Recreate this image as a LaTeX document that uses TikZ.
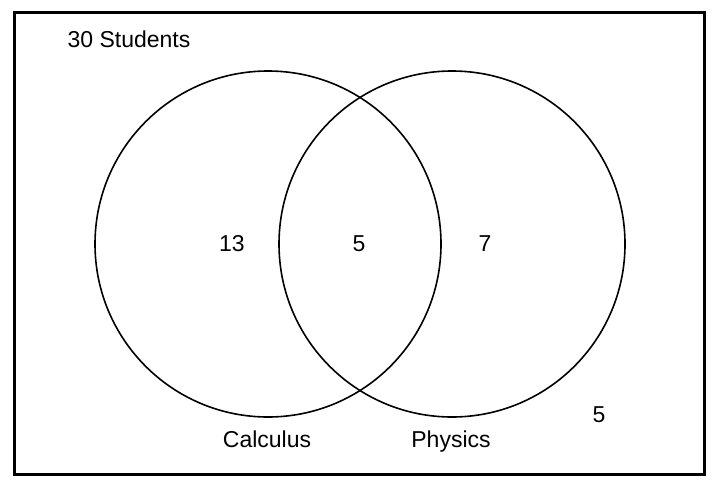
\documentclass[tikz,border=0pt]{standalone}
\usepackage{fontspec}
\setmainfont{Liberation Sans}
\begin{document}
\begin{tikzpicture}[x=1pt,y=-1pt,
  lbl/.style={font=\fontsize{23}{27}\selectfont, inner sep=0pt},
  setc/.style={draw, line width=1.6pt}]
\useasboundingbox (0,0) rectangle (720,490);
\node[draw, line width=3pt, minimum width=690pt, minimum height=462pt, inner sep=0pt] (frame) at (359,243) {};
\node[setc, circle, minimum size=346pt, inner sep=0pt] (calc) at (268,244) {};
\node[setc, circle, minimum size=346pt, inner sep=0pt] (phys) at (452,244) {};
\node[lbl] (total) at (129,39) {30 Students};
\node[lbl] (a) at (232,244) {13};
\node[lbl] (b) at (359,244) {5};
\node[lbl] (c) at (485,244) {7};
\node[lbl] (d) at (599,415) {5};
\node[lbl, anchor=base] (cl) at (267,447) {Calculus};
\node[lbl, anchor=base] (pl) at (451,447) {Physics};
\end{tikzpicture}
\end{document}
